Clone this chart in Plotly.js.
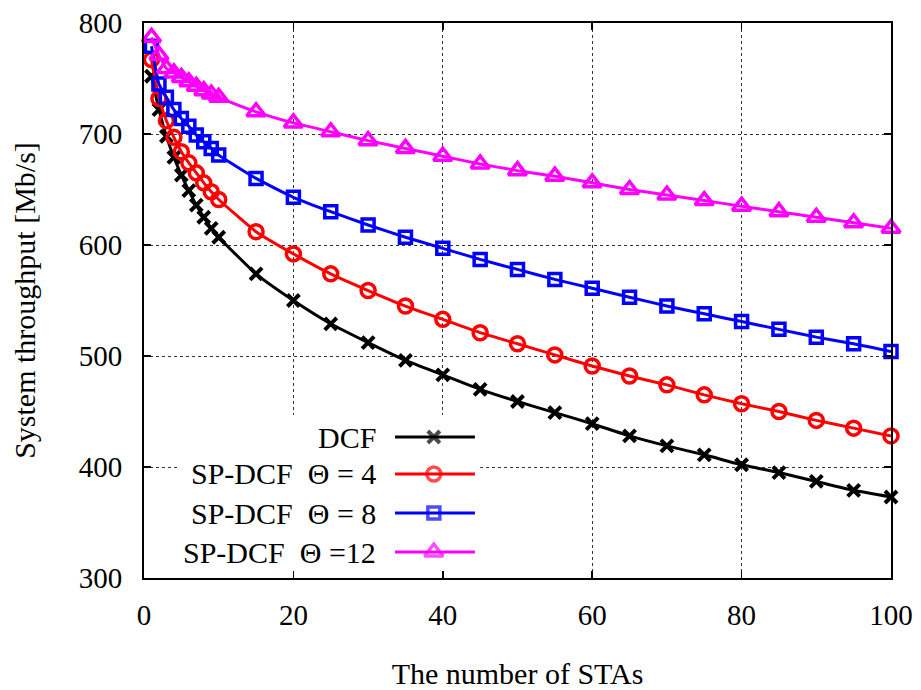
<!DOCTYPE html>
<html>
<head>
<meta charset="utf-8">
<script src="https://cdn.plot.ly/plotly-3.0.1.min.js"></script>
<style>html,body{margin:0;padding:0;background:#fff;}#chart{width:921px;height:690px;}</style>
</head>
<body>
<div id="chart"></div>
<script>
// ---- data ----
const stas = [1,2,3,4,5,6,7,8,9,10,15,20,25,30,35,40,45,50,55,60,65,70,75,80,85,90,95,100];
const dcf   = [752,722,698,679,663,649,636,625,615,607,574,550,529,512,496,483,470,459,449,439,428,419,411,402,395,387,379,373];
const sp4   = [767,732,712,697,684,674,665,656,648,641,612,592,574,559,545,533,521,511,501,491,482,474,465,457,450,442,435,428];
const sp8   = [779,745,733,722,714,707,699,693,687,681,660,643,630,618,607,597,587,578,569,561,553,545,538,531,524,517,511,504];
const sp12  = [787,771,759,755,751,747,743,739,736,733,720,710,702,694,687,680,673,667,662,656,650,645,640,635,630,625,620,615];
const seriesNames = ["DCF", "SP-DCF\u00a0\u00a0\u0398 = 4", "SP-DCF\u00a0\u00a0\u0398 = 8", "SP-DCF\u00a0\u00a0\u0398 =12"];
const xTicks = [0,20,40,60,80,100];
const yTicks = [300,400,500,600,700,800];

const FONT = "Liberation Serif, Times New Roman, serif";
const styles = [
  {color:"#000000", symbol:"x-thin-open", size:12, lw:4},
  {color:"#ff0000", symbol:"circle-open", size:14, lw:3.5},
  {color:"#0000ff", symbol:"square-open", size:12, lw:3.5},
  {color:"#ff00ff", symbol:"triangle-up-open", size:16, lw:3.5}
];
const ys = [dcf, sp4, sp8, sp12];

const traces = ys.map((y,i)=>({
  x: stas, y: y, type:"scatter", mode:"lines+markers", name: seriesNames[i],
  line:{color:styles[i].color, width:3, shape:"spline", smoothing:0.5},
  marker:{symbol:styles[i].symbol, size:styles[i].size, color:styles[i].color,
          line:{color:styles[i].color, width:styles[i].lw}},
  cliponaxis:false, showlegend:false, hoverinfo:"skip"
}));

// legend samples (custom legend: text on left, sample on right)
const legRowY = [0.254, 0.1874, 0.1171, 0.0468];
const legX0 = 0.336, legX1 = 0.443, legXm = 0.388, legTextX = 0.3133;
const annotations = [];
ys.forEach((y,i)=>{
  traces.push({
    x:[legX0, legXm, legX1], y:[legRowY[i], legRowY[i], legRowY[i]],
    xaxis:"x2", yaxis:"y2", type:"scatter", mode:"lines+markers",
    line:{color:styles[i].color, width:3},
    marker:{symbol:styles[i].symbol, size:[0, styles[i].size, 0], color:styles[i].color,
            line:{color:styles[i].color, width:styles[i].lw}},
    cliponaxis:false, showlegend:false, hoverinfo:"skip"
  });
  annotations.push({xref:"paper", yref:"paper", x:legTextX, y:legRowY[i],
    xanchor:"right", yanchor:"middle", text:seriesNames[i], showarrow:false,
    font:{family:FONT, size:30, color:"#000"}});
});

const layout = {
  width:921, height:690,
  margin:{l:144, r:30, t:23, b:112},
  paper_bgcolor:"#fff", plot_bgcolor:"#fff",
  showlegend:false,
  font:{family:FONT, size:29, color:"#000"},
  xaxis:{
    range:[0,100], tickvals:xTicks, ticktext:xTicks.map(String),
    ticks:"inside", ticklen:7, tickwidth:1.5, tickcolor:"#000",
    showline:true, linecolor:"#000", linewidth:2, mirror:"ticks",
    showgrid:true, gridcolor:"#333", gridwidth:1, griddash:"dot",
    zeroline:false, tickfont:{family:FONT, size:29},
    ticklabelstandoff:10,
    title:{text:"The number of STAs", font:{family:FONT, size:30}, standoff:42}
  },
  yaxis:{
    range:[300,800], tickvals:yTicks, ticktext:yTicks.map(String),
    ticks:"inside", ticklen:7, tickwidth:1.5, tickcolor:"#000",
    showline:true, linecolor:"#000", linewidth:2, mirror:"ticks",
    showgrid:true, gridcolor:"#333", gridwidth:1, griddash:"dot",
    zeroline:false, tickfont:{family:FONT, size:29},
    ticklabelstandoff:14,
    title:{text:"System throughput [Mb/s]", font:{family:FONT, size:30}, standoff:34}
  },
  xaxis2:{overlaying:"x", range:[0,1], visible:false, fixedrange:true},
  yaxis2:{overlaying:"y", range:[0,1], visible:false, fixedrange:true},
  shapes:[{type:"rect", xref:"x", yref:"y", x0:4.55, x1:45.0, y0:300, y1:446.8,
           fillcolor:"#fff", line:{width:0}, layer:"between"}],
  annotations: annotations
};

Plotly.newPlot("chart", traces, layout, {staticPlot:true, displayModeBar:false});
</script>
</body>
</html>
